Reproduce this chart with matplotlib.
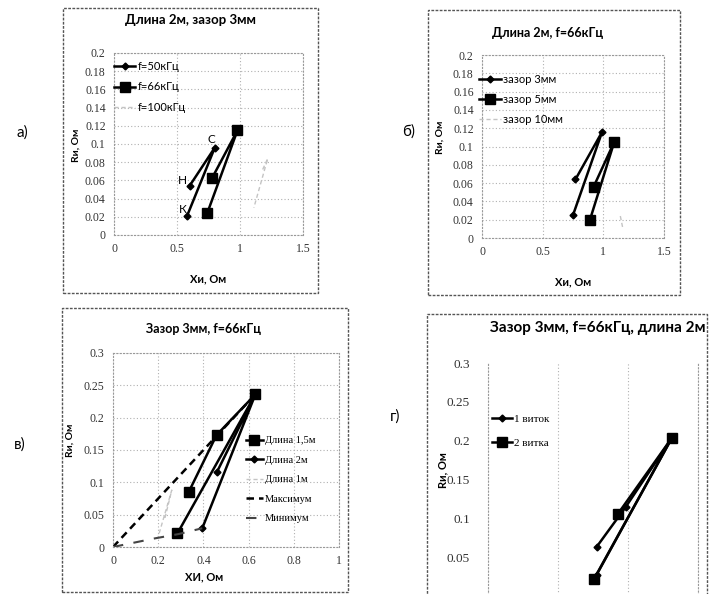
import numpy as np
import matplotlib
matplotlib.use("Agg")
from matplotlib import pyplot as plt
from matplotlib.patches import Rectangle

# ---- data ----
# a) length 2m, gap 3mm
a_f50_x = [0.60, 0.80, 0.58]
a_f50_y = [0.054, 0.096, 0.021]
a_f66_x = [0.78, 0.98, 0.74]
a_f66_y = [0.063, 0.115, 0.024]
a_f100_x = [1.18, 1.22, 1.11]
a_f100_y = [0.072, 0.084, 0.030]

# b) length 2m, f=66kHz
b_g3_x = [0.77, 0.99, 0.75]
b_g3_y = [0.064, 0.116, 0.025]
b_g5_x = [0.92, 1.09, 0.89]
b_g5_y = [0.056, 0.105, 0.020]
b_g10_x = [1.14, 1.16]
b_g10_y = [0.024, 0.011]

# c) gap 3mm, f=66kHz
c_l15_x = [0.335, 0.458, 0.63, 0.285]
c_l15_y = [0.085, 0.173, 0.236, 0.021]
c_l2_x = [0.46, 0.63, 0.395]
c_l2_y = [0.116, 0.236, 0.029]
c_l1_x = [0.23, 0.26, 0.20]
c_l1_y = [0.045, 0.088, 0.016]
c_max_x = [0.0, 0.63]
c_max_y = [0.0, 0.236]
c_min_x = [0.0, 0.18, 0.29, 0.395]
c_min_y = [0.0, 0.013, 0.020, 0.029]

# d) gap 3mm, f=66kHz, length 2m
d_t1_x = [0.31, 0.394, 0.526, 0.31]
d_t1_y = [0.063, 0.115, 0.204, 0.027]
d_t2_x = [0.37, 0.526, 0.303]
d_t2_y = [0.105, 0.204, 0.022]

W, H = 711, 594
fig = plt.figure(figsize=(W / 100, H / 100), dpi=100)

SERIF = "Liberation Serif"
SANS = "Lato"


def px_axes(l, t, r, b):
    return fig.add_axes([l / W, 1 - b / H, (r - l) / W, (b - t) / H])


def frame(l, t, r, b):
    fig.patches.append(Rectangle((l / W, 1 - b / H), (r - l) / W, (b - t) / H,
                                 transform=fig.transFigure, fill=False,
                                 ec="#555555", lw=1.0, ls=(0, (2, 1))))


def style(ax, xlim, ylim, xt, yt, fmt_y, size=8.5, pad=6):
    ax.set_xlim(*xlim)
    ax.set_ylim(*ylim)
    ax.set_xticks(xt)
    ax.set_yticks(yt)
    ax.set_xticklabels([("%g" % v) for v in xt], fontfamily=SERIF, fontsize=size, color="#333333")
    ax.set_yticklabels([fmt_y(v) for v in yt], fontfamily=SERIF, fontsize=size, color="#333333")
    ax.tick_params(length=0, pad=pad)
    ax.grid(True, color="#b0b0b0", lw=0.8, ls=(0, (1, 2)))
    for s in ax.spines.values():
        s.set_color("#999999")
        s.set_linestyle((0, (1, 2)))
        s.set_linewidth(0.8)
    ax.set_facecolor("none")


def fy(v):
    return "0" if v == 0 else ("%g" % v)


def leg(ax, x, y, font, size, hl, sp):
    ax.legend(loc="upper left", bbox_to_anchor=(x / W, 1 - y / H), bbox_transform=fig.transFigure,
              frameon=False, handlelength=hl, handletextpad=0.2, labelspacing=sp,
              borderpad=0, borderaxespad=0, prop=dict(family=font, size=size))


dia = dict(color="black", lw=1.8, marker="D", ms=3.5)
sq = dict(color="black", lw=1.8, marker="s", ms=7)
faint = dict(color="#c4c4c4", lw=1.0, ls=(0, (3, 2)))

# ---------- a) ----------
frame(63, 8, 318, 293)
ax = px_axes(114, 53, 303, 235)
style(ax, (0, 1.5), (0, 0.2), [0, 0.5, 1, 1.5], np.arange(0, 0.201, 0.02), fy)
ax.plot(a_f50_x, a_f50_y, **dia, label="f=50кГц")
ax.plot(a_f66_x, a_f66_y, **sq, label="f=66кГц")
ax.plot(a_f100_x, a_f100_y, **faint, label="f=100кГц")
for t, i, off in [("Н", 0, (-7, 5)), ("С", 1, (-3, 8)), ("К", 2, (-4, 6))]:
    ax.annotate(t, (a_f50_x[i], a_f50_y[i]), xytext=off, textcoords="offset pixels",
                fontsize=8.5, fontfamily=SANS, ha="center", va="center")
leg(ax, 114, 61, SANS, 8, 1.9, 0.85)
fig.text(190 / W, 1 - 20 / H, "Длина 2м, зазор 3мм", ha="center", va="center",
         fontfamily=SANS, fontweight="bold", fontsize=9.5)
fig.text(76 / W, 1 - 145 / H, "Rи, Ом", rotation=90, ha="center", va="center",
         fontfamily=SANS, fontweight="bold", fontsize=7.5)
fig.text(208 / W, 1 - 279 / H, "Хи, Ом", ha="center", va="center",
         fontfamily=SANS, fontweight="bold", fontsize=8)
fig.text(22 / W, 1 - 133 / H, "а)", ha="center", va="center", fontfamily=SANS, fontsize=11)

# ---------- б) ----------
frame(428, 10, 680, 295)
ax = px_axes(482, 55, 664, 238)
style(ax, (0, 1.5), (0, 0.2), [0, 0.5, 1, 1.5], np.arange(0, 0.201, 0.02), fy)
ax.plot(b_g3_x, b_g3_y, **dia, label="зазор 3мм")
ax.plot(b_g5_x, b_g5_y, **sq, label="зазор 5мм")
ax.plot(b_g10_x, b_g10_y, **faint, label="зазор 10мм")
leg(ax, 479, 74, SANS, 8, 2.0, 0.8)
fig.text(548 / W, 1 - 33 / H, "Длина 2м, f=66кГц", ha="center", va="center",
         fontfamily=SANS, fontweight="bold", fontsize=9)
fig.text(440 / W, 1 - 137 / H, "Rи, Ом", rotation=90, ha="center", va="center",
         fontfamily=SANS, fontweight="bold", fontsize=7.5)
fig.text(573 / W, 1 - 282 / H, "Хи, Ом", ha="center", va="center",
         fontfamily=SANS, fontweight="bold", fontsize=8)
fig.text(409 / W, 1 - 132 / H, "б)", ha="center", va="center", fontfamily=SANS, fontsize=11)

# ---------- в) ----------
frame(62, 308, 348, 592)
ax = px_axes(113, 353, 339, 547)
style(ax, (0, 1), (0, 0.3), [0, 0.2, 0.4, 0.6, 0.8, 1], [0, 0.05, 0.1, 0.15, 0.2, 0.25, 0.3], fy)
ax.plot(c_l15_x, c_l15_y, **sq, label="Длина 1,5м")
ax.plot(c_l2_x, c_l2_y, **dia, label="Длина 2м")
ax.plot(c_l1_x, c_l1_y, **faint, label="Длина 1м")
ax.plot(c_max_x, c_max_y, color="black", lw=1.8, ls=(0, (3, 2)), label="Максимум")
ax.plot(c_min_x, c_min_y, color="#444444", lw=1.5, ls=(0, (5, 5)), label="Минимум")
leg(ax, 246, 436, SERIF, 7.5, 1.6, 0.98)
fig.text(204 / W, 1 - 329 / H, "Зазор 3мм, f=66кГц", ha="center", va="center",
         fontfamily=SANS, fontweight="bold", fontsize=9)
fig.text(70 / W, 1 - 440 / H, "Rи, Ом", rotation=90, ha="center", va="center",
         fontfamily=SANS, fontweight="bold", fontsize=7.5)
fig.text(204 / W, 1 - 577 / H, "ХИ, Ом", ha="center", va="center",
         fontfamily=SANS, fontweight="bold", fontsize=8)
fig.text(20 / W, 1 - 445 / H, "в)", ha="center", va="center", fontfamily=SANS, fontsize=11)

# ---------- г) ----------
frame(427, 314, 707, 600)
ax = px_axes(488, 363, 698, 596)
# lower part of this chart is cut off in the scan: no x labels, no "0"
style(ax, (0, 0.6), (0, 0.3), [0, 0.2, 0.4, 0.6], [0.05, 0.1, 0.15, 0.2, 0.25, 0.3], fy,
      size=9.5, pad=13)
ax.set_xticklabels([])
ax.grid(axis="y", visible=False)
ax.spines["bottom"].set_visible(False)
ax.spines["top"].set_visible(False)
ax.plot(d_t1_x, d_t1_y, **dia, label="1 виток")
ax.plot(d_t2_x, d_t2_y, **sq, label="2 витка")
leg(ax, 492, 414, SERIF, 8, 1.8, 1.3)
fig.text(598 / W, 1 - 328 / H, "Зазор 3мм, f=66кГц, длина 2м", ha="center", va="center",
         fontfamily=SANS, fontweight="bold", fontsize=11)
fig.text(443 / W, 1 - 470 / H, "Rи, Ом", rotation=90, ha="center", va="center",
         fontfamily=SANS, fontweight="bold", fontsize=8)
fig.text(395 / W, 1 - 417 / H, "г)", ha="center", va="center", fontfamily=SANS, fontsize=11)

fig.savefig("out.png", dpi=100)
